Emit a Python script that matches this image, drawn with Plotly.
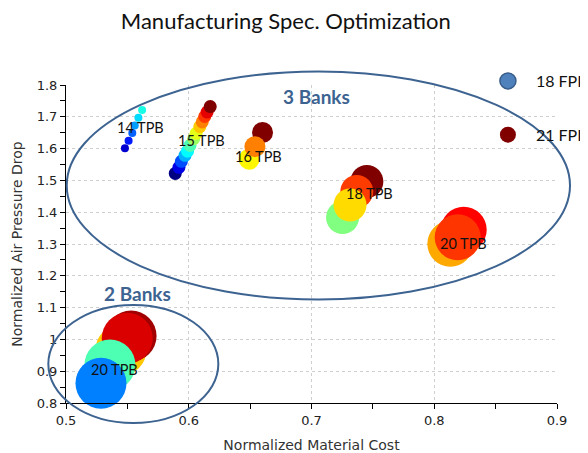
import plotly.graph_objects as go

# ---------------- data ----------------
# each group: normalized material cost (x), normalized air pressure drop (y), colour value (FPI scale 18..21)
tpb14_x = [0.548, 0.551, 0.554, 0.556, 0.559, 0.562]
tpb14_y = [1.601, 1.625, 1.649, 1.673, 1.697, 1.721]
tpb14_fpi = [18.24, 18.45, 18.66, 18.84, 19.02, 19.2]

tpb15_x = [0.589, 0.592, 0.594, 0.597, 0.599, 0.601, 0.604, 0.606, 0.609, 0.611, 0.613, 0.615, 0.6175]
tpb15_y = [1.522, 1.541, 1.560, 1.579, 1.592, 1.610, 1.631, 1.648, 1.669, 1.684, 1.701, 1.715, 1.732]
tpb15_fpi = [18.0, 18.3, 18.6, 18.9, 19.12, 19.35, 19.59, 19.8, 20.04, 20.25, 20.46, 20.7, 21.0]

tpb16_x = [0.6492, 0.6601, 0.6539]
tpb16_y = [1.5667, 1.6506, 1.6060]
tpb16_fpi = [19.9, 21.0, 20.25]

tpb18_x = [0.7253, 0.7451, 0.7369, 0.7314]
tpb18_y = [1.3833, 1.4965, 1.4651, 1.4226]
tpb18_fpi = [19.5, 21.0, 20.45, 19.98]

tpb20_3b_x = [0.8131, 0.8240, 0.8191]
tpb20_3b_y = [1.3009, 1.3450, 1.3211]
tpb20_3b_fpi = [20.13, 20.62, 20.47]

tpb20_2b_x = [0.5448, 0.5530, 0.5499, 0.5358, 0.5285]
tpb20_2b_y = [0.9667, 1.0107, 1.0035, 0.9195, 0.8620]
tpb20_2b_fpi = [20.04, 20.9, 20.73, 19.35, 18.75]

group_labels = ["14 TPB", "15 TPB", "16 TPB", "18 TPB", "20 TPB", "20 TPB"]
label_x = [0.5609, 0.6100, 0.6572, 0.7473, 0.8237, 0.5399]
label_y = [1.6657, 1.627, 1.5745, 1.4594, 1.3022, 0.9060]

bank_labels = ["3 Banks", "2 Banks"]
bank_label_x = [0.7037, 0.5582]
bank_label_y = [1.7623, 1.1459]

# ellipse bounds (data units): x0, x1, y0, y1
ellipse_3b = [0.5006, 0.9106, 1.1255, 1.8425]
ellipse_2b = [0.4856, 0.6241, 0.7371, 1.1082]

legend_names = ["18 FPI", "21 FPI"]

x_range = [0.5, 0.9]
y_range = [0.8, 1.8]

# ---------------- styles ----------------
JET = [[0.0, "rgb(0,0,128)"], [0.125, "rgb(0,0,255)"], [0.375, "rgb(0,255,255)"],
       [0.625, "rgb(255,255,0)"], [0.875, "rgb(255,0,0)"], [1.0, "rgb(128,0,0)"]]
BANK_COLOR = "#3d6391"
LABEL_FONT = "Lato, 'Open Sans', sans-serif"
TICK_FONT = "'DejaVu Sans', sans-serif"

groups = [
    (tpb14_x, tpb14_y, tpb14_fpi, 8),
    (tpb15_x, tpb15_y, tpb15_fpi, 13),
    (tpb16_x, tpb16_y, tpb16_fpi, 21),
    (tpb18_x, tpb18_y, tpb18_fpi, 33),
    (tpb20_3b_x, tpb20_3b_y, tpb20_3b_fpi, 46),
    (tpb20_2b_x, tpb20_2b_y, tpb20_2b_fpi, 51),
]

fig = go.Figure()
for gx, gy, gc, sz in groups:
    fig.add_trace(go.Scatter(
        x=gx, y=gy, mode="markers", showlegend=False, cliponaxis=False,
        hoverinfo="x+y",
        marker=dict(size=sz, color=gc, colorscale=JET, cmin=18, cmax=21,
                    line=dict(width=0), opacity=1),
    ))

legend_styles = [
    dict(color="#4f81bd", line=dict(color="#385d8a", width=1.5)),
    dict(color="#800000", line=dict(color="#800000", width=0)),
]
for i, (name, st) in enumerate(zip(legend_names, legend_styles)):
    fig.add_trace(go.Scatter(
        x=[None], y=[None], mode="markers", name=name, legendgroup=name,
        marker=dict(size=18, **st),
    ))

def to_paper_x(v):
    return (v - x_range[0]) / (x_range[1] - x_range[0])

def to_paper_y(v):
    return (v - y_range[0]) / (y_range[1] - y_range[0])

for e in (ellipse_3b, ellipse_2b):
    fig.add_shape(type="circle", xref="paper", yref="paper",
                  x0=to_paper_x(e[0]), x1=to_paper_x(e[1]),
                  y0=to_paper_y(e[2]), y1=to_paper_y(e[3]),
                  line=dict(color=BANK_COLOR, width=2), layer="above")

for t, lx, ly in zip(group_labels, label_x, label_y):
    fig.add_annotation(x=lx, y=ly, text=t, showarrow=False,
                       font=dict(family=LABEL_FONT, size=14.5, color="#111"))

for t, lx, ly in zip(bank_labels, bank_label_x, bank_label_y):
    fig.add_annotation(x=lx, y=ly, text="<b>" + t + "</b>", showarrow=False,
                       font=dict(family=LABEL_FONT, size=19, color=BANK_COLOR))

axis_common = dict(
    showline=True, linecolor="black", linewidth=1,
    ticks="outside", ticklen=5, tickcolor="black", tickwidth=1,
    showgrid=True, gridcolor="#cfcfcf", griddash="dot", gridwidth=1,
    zeroline=False, automargin=False,
    tickfont=dict(family=TICK_FONT, size=13, color="#222"),
    minor=dict(ticks="outside", ticklen=5, tickcolor="black", showgrid=False),
)

# the page body adds an 8px offset, so the figure is 8px smaller than the window
fig.update_layout(
    width=580, height=445,
    margin=dict(l=58, r=31, t=77, b=50, autoexpand=False),
    paper_bgcolor="white", plot_bgcolor="white",
    title=dict(text="Manufacturing Spec. Optimization", xref="container", x=0.479,
               xanchor="center", y=0.9708, yanchor="middle",
               font=dict(family=LABEL_FONT, size=22, color="#111")),
    xaxis=dict(range=x_range, dtick=0.1, tick0=0.5, minor_dtick=0.05,
               title=dict(text="Normalized Material Cost", standoff=14,
                          font=dict(family=TICK_FONT, size=14, color="#333")),
               **axis_common),
    yaxis=dict(range=y_range, dtick=0.1, tick0=0.8, minor_dtick=0.05,
               title=dict(text="Normalized Air Pressure Drop", standoff=10,
                          font=dict(family=TICK_FONT, size=14, color="#333")),
               **axis_common),
    legend=dict(x=0.843, y=1.066, xanchor="left", yanchor="top",
                font=dict(family=LABEL_FONT, size=16, color="#111"),
                tracegroupgap=30, itemwidth=46, bgcolor="rgba(0,0,0,0)",
                traceorder="grouped"),
    showlegend=True,
)

fig.write_html("out.html")
